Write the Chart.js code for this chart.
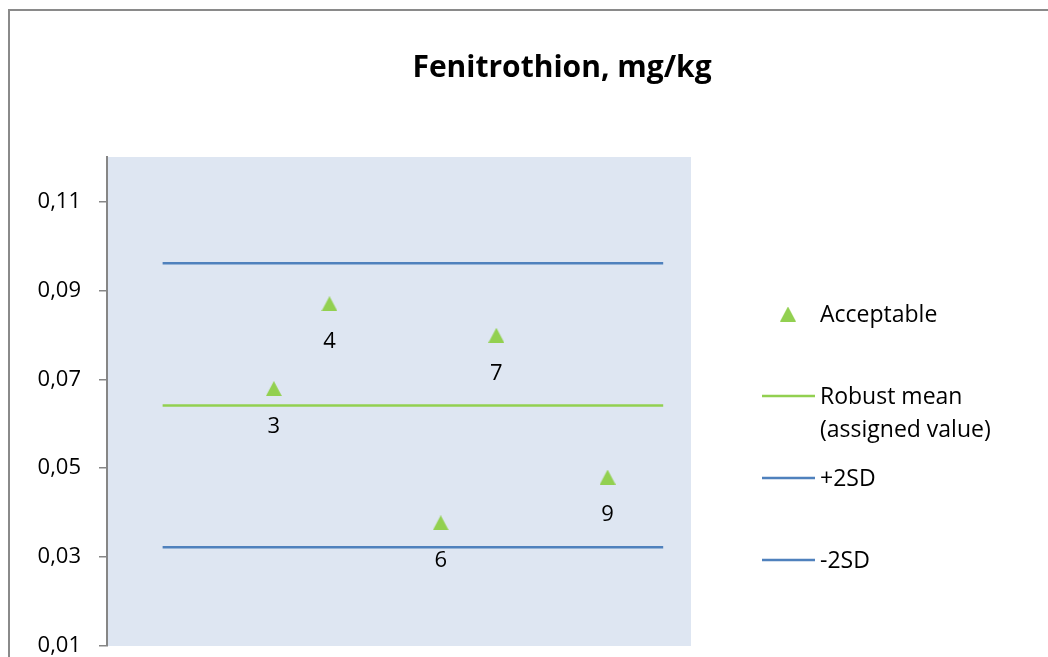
<!DOCTYPE html>
<html>
<head>
<meta charset="utf-8">
<script src="https://cdn.jsdelivr.net/npm/chart.js@4.4.1/dist/chart.umd.min.js"></script>
<style>
  html, body { margin: 0; padding: 0; background: #ffffff; overflow: hidden; width: 1048px; height: 657px; }
  #frame { position: absolute; left: 8px; top: 9px; width: 1200px; height: 800px; border-left: 2px solid #8a8a8a; border-top: 2px solid #8a8a8a; }
  #wrap { position: absolute; left: 0; top: 0; width: 1123px; height: 657px; }
</style>
</head>
<body>
<div id="frame"></div>
<div id="wrap"><canvas id="c" width="1123" height="657"></canvas></div>
<script>
// ---- data ----
const titleText = 'Fenitrothion, mg/kg';
const labNumbers = [3, 4, 6, 7, 9];
const labValues = [0.0679, 0.0870, 0.0377, 0.0799, 0.0480];
const lineX = [1, 10];
const robustMean = 0.0641;
const plus2SD = 0.0961;
const minus2SD = 0.0322;
const yTicks = [0.01, 0.03, 0.05, 0.07, 0.09, 0.11];
const seriesNames = ['Acceptable', ['Robust mean', '(assigned value)'], '+2SD', '-2SD'];

const GREEN = '#92D050';
const BLUE = '#4F81BD';
const FONT = '"Open Sans", Lato, sans-serif';

// triangle marker image (bbox-centred like Excel markers)
const tri = document.createElement('canvas');
tri.width = 16; tri.height = 15;
(function () {
  const g = tri.getContext('2d');
  g.fillStyle = GREEN;
  g.beginPath(); g.moveTo(8, 0); g.lineTo(16, 15); g.lineTo(0, 15); g.closePath(); g.fill();
})();

const lineData = v => lineX.map(x => ({ x: x, y: v }));

const plotBg = {
  id: 'plotBg',
  beforeDraw(chart) {
    const a = chart.chartArea, ctx = chart.ctx;
    ctx.save(); ctx.fillStyle = '#DEE6F2';
    ctx.fillRect(a.left, a.top, a.right - a.left, a.bottom - a.top);
    ctx.restore();
  }
};

const chartTitle = {
  id: 'chartTitle',
  afterDraw(chart) {
    const ctx = chart.ctx;
    ctx.save();
    ctx.font = 'bold 30px ' + FONT; ctx.fillStyle = '#000';
    ctx.textAlign = 'center'; ctx.textBaseline = 'alphabetic';
    ctx.fillText(titleText, 562, 77);
    ctx.restore();
  }
};

const pointLabels = {
  id: 'pointLabels',
  afterDatasetsDraw(chart) {
    const ctx = chart.ctx, meta = chart.getDatasetMeta(0);
    ctx.save();
    ctx.font = '22px ' + FONT; ctx.fillStyle = '#000'; ctx.textAlign = 'center'; ctx.textBaseline = 'middle';
    meta.data.forEach((el, i) => {
      ctx.fillText(String(chart.data.datasets[0].data[i].x), el.x, el.y + 38);
    });
    ctx.restore();
  }
};

const customLegend = {
  id: 'customLegend',
  afterDraw(chart) {
    const ctx = chart.ctx, ds = chart.data.datasets;
    const tx = 820, lx0 = 762, lx1 = 815;
    const rows = [314, 396, 478, 560];
    ctx.save();
    ctx.font = '23px ' + FONT; ctx.fillStyle = '#000'; ctx.textAlign = 'left'; ctx.textBaseline = 'middle';
    ds.forEach((d, i) => {
      const y = rows[i];
      if (i === 0) {
        ctx.drawImage(tri, 788 - 8, y - 7.5);
      } else {
        ctx.strokeStyle = d.borderColor; ctx.lineWidth = d.borderWidth;
        ctx.beginPath(); ctx.moveTo(lx0, y); ctx.lineTo(lx1, y); ctx.stroke();
      }
      const lines = Array.isArray(d.label) ? d.label : [d.label];
      lines.forEach((t, k) => ctx.fillText(t, tx, y + 1 + k * 33));
    });
    ctx.restore();
  }
};

new Chart(document.getElementById('c'), {
  type: 'scatter',
  data: {
    datasets: [
      { label: seriesNames[0], data: labNumbers.map((x, i) => ({ x: x, y: labValues[i] })),
        pointStyle: tri, pointRadius: 8, backgroundColor: GREEN, borderColor: GREEN, showLine: false },
      { label: seriesNames[1], data: lineData(robustMean), showLine: true, borderColor: GREEN, borderWidth: 2.5, pointRadius: 0 },
      { label: seriesNames[2], data: lineData(plus2SD), showLine: true, borderColor: BLUE, borderWidth: 2.5, pointRadius: 0 },
      { label: seriesNames[3], data: lineData(minus2SD), showLine: true, borderColor: BLUE, borderWidth: 2.5, pointRadius: 0 }
    ]
  },
  options: {
    responsive: false,
    animation: false,
    layout: { padding: { left: 0, right: 1123 - 691, top: 157, bottom: 11 } },
    plugins: {
      legend: { display: false },
      tooltip: { enabled: false },
      title: { display: false, text: titleText }
    },
    scales: {
      x: { type: 'linear', display: false, min: 0, max: 10.5 },
      y: {
        type: 'linear', min: 0.01, max: 0.12,
        afterBuildTicks(scale) { scale.ticks = yTicks.map(v => ({ value: v })); },
        afterFit(scale) { scale.width = 107; scale.paddingTop = 0; scale.paddingBottom = 0; },
        grid: { drawOnChartArea: false, drawTicks: true, tickLength: 8, color: '#868686', lineWidth: 1.5 },
        border: { display: true, color: '#868686', width: 2 },
        ticks: {
          padding: 18, color: '#000', font: { family: FONT, size: 22 },
          callback: v => v.toFixed(2).replace('.', ',')
        }
      }
    }
  },
  plugins: [plotBg, chartTitle, pointLabels, customLegend]
});
</script>
</body>
</html>
